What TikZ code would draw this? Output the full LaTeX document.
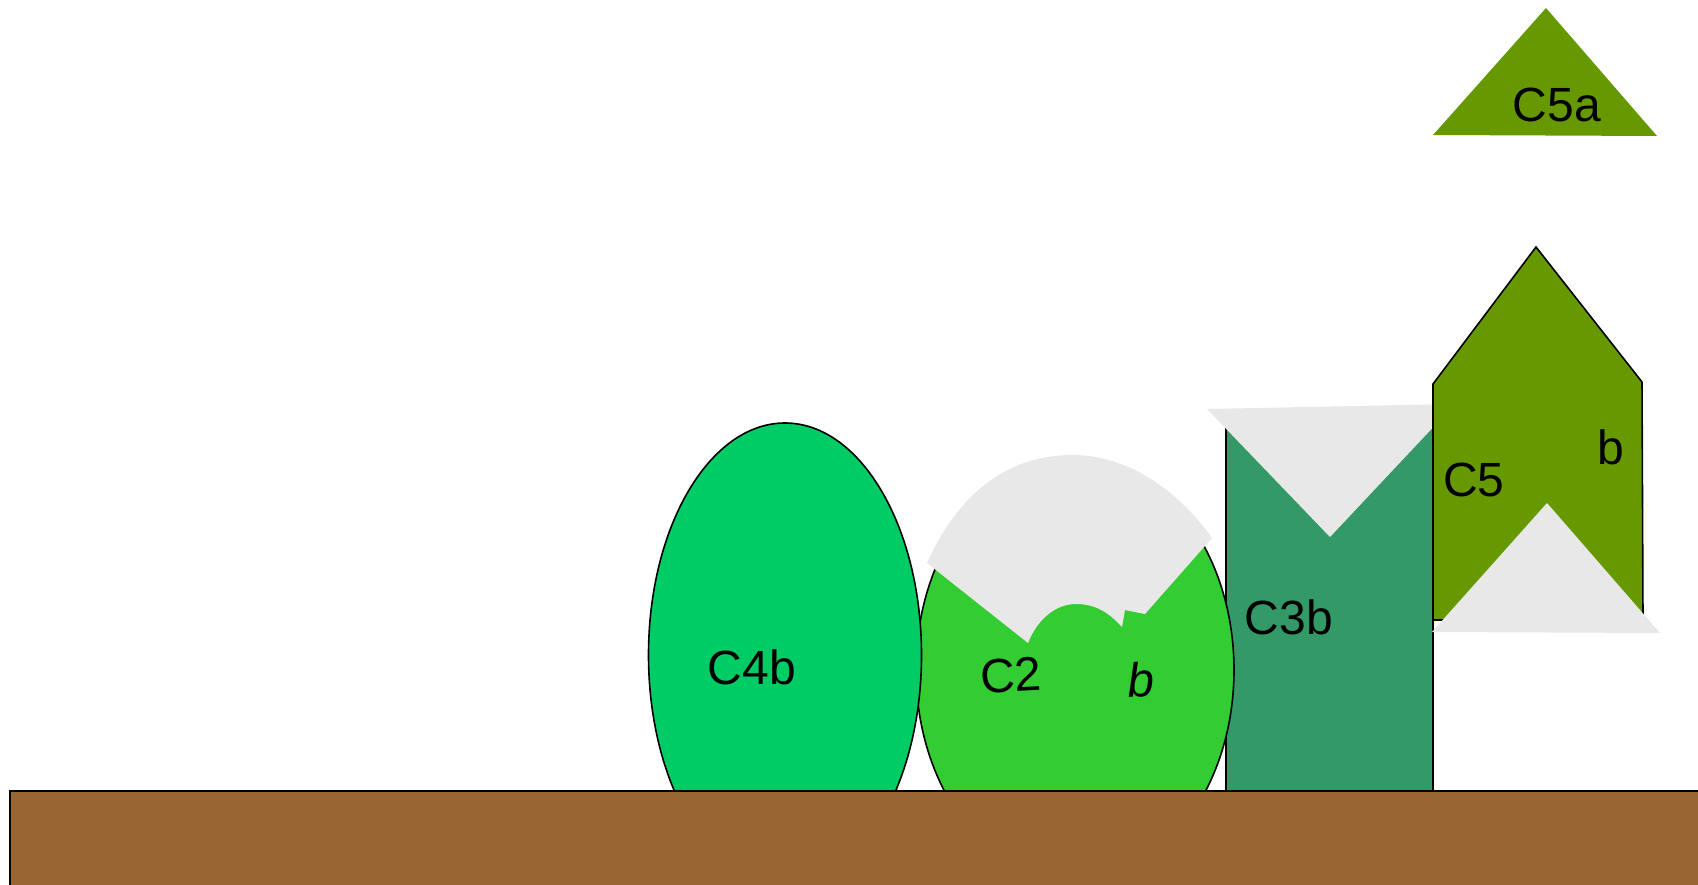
\documentclass[tikz,border=0pt]{standalone}
\usepackage{fontspec}
\setmainfont{Liberation Sans}
\definecolor{soil}{HTML}{996633}
\definecolor{cfourb}{HTML}{00CC66}
\definecolor{ctwo}{HTML}{33CC33}
\definecolor{cthreeb}{HTML}{339966}
\definecolor{cfive}{HTML}{669900}
\definecolor{cutgrey}{HTML}{E8E8E8}
\begin{document}
\begin{tikzpicture}[x=1pt, y=-1pt, line width=1.6pt,
  cutout/.style={fill=cutgrey},
  txt/.style={font=\fontsize{48}{56}\selectfont}]
\useasboundingbox (0,0) rectangle (1698,885);

% C3b block
\draw[fill=cthreeb] (1226,410) rectangle (1433,791);
\fill[cutout] (1207,409) -- (1455,404) -- (1330,537) -- cycle;
\node[txt] (c3b) at (1289,617) {C3b};

% C2 bush with its bite
\draw[fill=ctwo] (1075,670) ellipse [x radius=159, y radius=212];
\fill[cutout] (927,563) .. controls (960,490) and (1010,455) .. (1073,455)
  .. controls (1130,455) and (1180,493) .. (1212,538) -- (1145,614) -- (1125,610) -- (1122,627)
  .. controls (1105,608) and (1090,604) .. (1076,604)
  .. controls (1055,604) and (1037,620) .. (1028,643) -- cycle;
\node[txt, rotate=3] (c2) at (1011,675) {C2};
\node[txt, rotate=3] (c2b) at (1141,680) {\itshape b};

% C4b bush
\draw[fill=cfourb] (785,655) ellipse [x radius=136.5, y radius=232];
\node[txt] (c4b) at (752,667) {C4b};

% C5 house
\draw[fill=cfive] (1433,620) -- (1433,384) -- (1536,247) -- (1642,382) -- (1643,620) -- cycle;
\fill[cutout] (1547,503) -- (1660,633) -- (1432,632) -- cycle;
\node[txt] (c5) at (1474,480) {C5};
\node[txt] (c5b) at (1611,447) {b};

% C5a roof
\fill[cfive] (1546,8) -- (1657,136) -- (1433,135) -- cycle;
\node[txt] (c5a) at (1557,105) {C5a};

% Ground
\draw[fill=soil] (10,791) rectangle (1710,900);

\end{tikzpicture}
\end{document}
